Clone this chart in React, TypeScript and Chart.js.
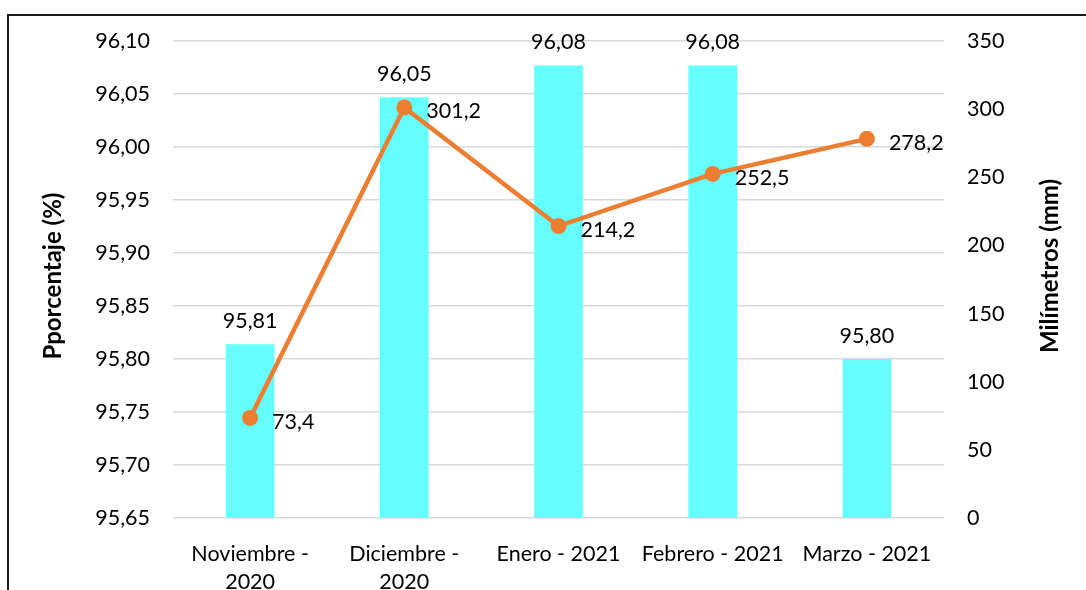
import React, { useEffect, useRef } from "react";
import { Chart, registerables } from "chart.js";

Chart.register(...registerables);

const categories: (string | string[])[] = [
  ["Noviembre -", "2020"],
  ["Diciembre -", "2020"],
  "Enero - 2021",
  "Febrero - 2021",
  "Marzo - 2021",
];
const porcentaje = [95.814, 96.047, 96.077, 96.077, 95.8];
const milimetros = [73.4, 301.2, 214.2, 252.5, 278.2];
const leftTitle = "Pporcentaje (%)";
const rightTitle = "Milímetros (mm)";

const FONT = "Lato";
const TEXT = "#000000";
const GRID = "#d9d9d9";

const fmt2 = (v: number) => v.toFixed(2).replace(".", ",");
const fmt1 = (v: number) => v.toFixed(1).replace(".", ",");

const labelsPlugin = {
  id: "customLabels",
  afterDatasetsDraw(chart: any) {
    const ctx = chart.ctx;
    ctx.save();
    ctx.fillStyle = TEXT;
    ctx.font = `21.5px ${FONT}`;
    const barMeta = chart.getDatasetMeta(1);
    barMeta.data.forEach((el: any, i: number) => {
      ctx.textAlign = "center";
      ctx.textBaseline = "middle";
      ctx.fillText(fmt2(porcentaje[i]), el.x, el.y - 23);
    });
    const lineMeta = chart.getDatasetMeta(0);
    lineMeta.data.forEach((el: any, i: number) => {
      ctx.textAlign = "left";
      ctx.textBaseline = "middle";
      ctx.fillText(fmt1(milimetros[i]), el.x + 22, el.y + 4);
    });
    ctx.font = `bold 24px ${FONT}`;
    ctx.textAlign = "center";
    ctx.textBaseline = "middle";
    ctx.save();
    ctx.translate(53, 276);
    ctx.rotate(-Math.PI / 2);
    ctx.fillText(leftTitle, 0, 0);
    ctx.restore();
    ctx.save();
    ctx.translate(1050, 266);
    ctx.rotate(-Math.PI / 2);
    ctx.fillText(rightTitle, 0, 0);
    ctx.restore();
    ctx.restore();
  },
};

export default function App() {
  const ref = useRef<HTMLCanvasElement | null>(null);
  useEffect(() => {
    if (!ref.current) return;
    const chart = new Chart(ref.current, {
      type: "bar",
      data: {
        labels: categories as any,
        datasets: [
          {
            type: "line",
            label: rightTitle,
            data: milimetros,
            yAxisID: "y1",
            borderColor: "#ED7D31",
            backgroundColor: "#ED7D31",
            borderWidth: 4.5,
            pointRadius: 8,
            pointBorderWidth: 0,
            pointBackgroundColor: "#ED7D31",
            tension: 0,
            order: 0,
          } as any,
          {
            type: "bar",
            label: leftTitle,
            data: porcentaje,
            yAxisID: "y",
            backgroundColor: "#66FFFF",
            barPercentage: 0.315,
            categoryPercentage: 1,
            order: 1,
          },
        ],
      },
      plugins: [labelsPlugin],
      options: {
        responsive: false,
        animation: false,
        layout: { padding: { top: 41, left: 0, right: 0, bottom: 0 } },
        plugins: { legend: { display: false }, tooltip: { enabled: false } },
        scales: {
          x: {
            grid: { display: false, drawTicks: false },
            border: { display: false },
            ticks: {
              color: TEXT,
              font: { family: FONT, size: 21.5, lineHeight: 1.3 },
              padding: 22,
              maxRotation: 0,
              autoSkip: false,
            },
            afterFit: (s: any) => {
              s.height = 72;
            },
          },
          y: {
            position: "left",
            min: 95.65,
            max: 96.1,
            grid: { color: GRID, lineWidth: 1.5, drawTicks: false },
            border: { display: false },
            ticks: {
              stepSize: 0.05,
              color: TEXT,
              font: { family: FONT, size: 21.5 },
              padding: 23,
              callback: (v: any) => fmt2(Number(v)),
            },
            afterFit: (s: any) => {
              s.width = 173;
            },
          },
          y1: {
            position: "right",
            min: 0,
            max: 350,
            grid: { drawOnChartArea: false, drawTicks: false },
            border: { display: false },
            ticks: {
              stepSize: 50,
              color: TEXT,
              font: { family: FONT, size: 21.5 },
              padding: 23,
            },
            afterFit: (s: any) => {
              s.width = 142;
            },
          },
        },
      },
    });
    return () => chart.destroy();
  }, []);
  return (
    <div
      style={{
        position: "fixed",
        left: 0,
        top: 0,
        width: 1086,
        height: 590,
        overflow: "hidden",
        background: "#fff",
      }}
    >
      <div
        style={{
          position: "absolute",
          left: 7,
          top: 14,
          width: 2000,
          height: 2000,
          border: "2px solid #1a1a1a",
        }}
      />
      <canvas
        ref={ref}
        width={1086}
        height={590}
        style={{ position: "absolute", left: 0, top: 0, width: 1086, height: 590 }}
      />
    </div>
  );
}
